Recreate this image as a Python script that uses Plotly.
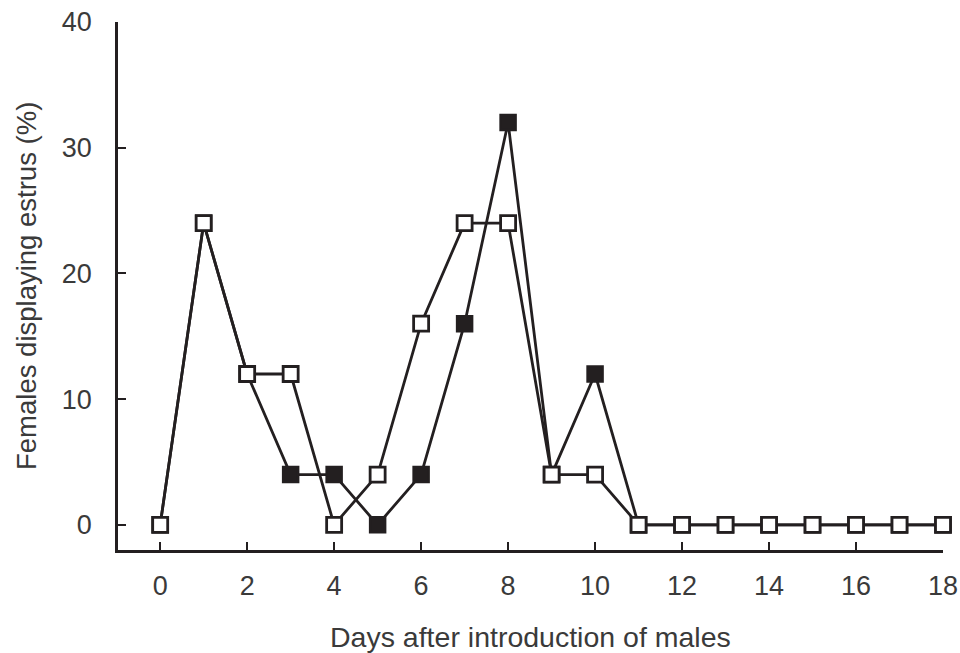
import plotly.graph_objects as go

days = list(range(19))
filled_pct = [0, 24, 12, 4, 4, 0, 4, 16, 32, 4, 12, 0, 0, 0, 0, 0, 0, 0, 0]
open_pct = [0, 24, 12, 12, 0, 4, 16, 24, 24, 4, 4, 0, 0, 0, 0, 0, 0, 0, 0]
x_ticks = [0, 2, 4, 6, 8, 10, 12, 14, 16, 18]
y_ticks = [0, 10, 20, 30, 40]
x_title = "Days after introduction of males"
y_title = "Females displaying estrus (%)"

ink = "#231f20"
txt = "#3a3a3a"
fig = go.Figure()
fig.add_trace(go.Scatter(
    x=days, y=filled_pct, mode="lines+markers", cliponaxis=False,
    line=dict(color=ink, width=2.8),
    marker=dict(symbol="square", size=15, color=ink, line=dict(color=ink, width=2.5)),
    showlegend=False))
fig.add_trace(go.Scatter(
    x=days, y=open_pct, mode="lines+markers", cliponaxis=False,
    line=dict(color=ink, width=2.8),
    marker=dict(symbol="square", size=15, color="white", line=dict(color=ink, width=2.8)),
    showlegend=False))

font = dict(family="Liberation Sans, Arial, sans-serif", size=27, color=txt)
xt_font = dict(family="Liberation Sans, Arial, sans-serif", size=28.5, color=txt)
yt_font = dict(family="Liberation Sans, Arial, sans-serif", size=27.5, color=txt)
fig.update_layout(
    width=960, height=653,
    margin=dict(l=118, r=17, t=22, b=103),
    paper_bgcolor="white", plot_bgcolor="white",
    font=font,
    xaxis=dict(range=[-0.97, 18.0], tickvals=x_ticks, ticks="inside", ticklen=8,
               tickwidth=2, tickcolor=ink, showline=True, linecolor=ink, linewidth=2.5,
               showgrid=False, zeroline=False, ticklabelstandoff=10, automargin=False),
    yaxis=dict(range=[-2, 40], tickvals=y_ticks, ticks="inside", ticklen=8,
               tickwidth=2, tickcolor=ink, showline=True, linecolor=ink, linewidth=2.5,
               showgrid=False, zeroline=False, ticklabelstandoff=18, automargin=False),
    annotations=[
        dict(text=x_title, xref="paper", yref="paper", x=0.5, y=0, xanchor="center",
             yanchor="top", yshift=-69, showarrow=False, font=xt_font),
        dict(text=y_title, xref="paper", yref="paper", x=0, y=0.5, xanchor="center",
             yanchor="middle", xshift=-92, textangle=-90, showarrow=False, font=yt_font),
    ],
)
fig.write_html("out.html", config={"displayModeBar": False},
               post_script="document.body.style.margin='0';")
